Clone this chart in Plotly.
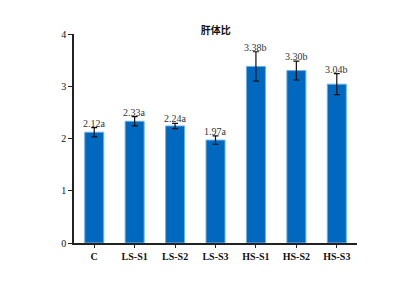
import plotly.graph_objects as go

categories = ["C", "LS-S1", "LS-S2", "LS-S3", "HS-S1", "HS-S2", "HS-S3"]
values = [2.12, 2.33, 2.24, 1.97, 3.38, 3.30, 3.04]
errors = [0.09, 0.09, 0.05, 0.08, 0.28, 0.18, 0.20]
labels = ["2.12a", "2.33a", "2.24a", "1.97a", "3.38b", "3.30b", "3.04b"]
y_ticks = [0, 1, 2, 3, 4]

fig = go.Figure()
fig.add_trace(go.Bar(
    x=categories, y=values, width=0.47,
    marker=dict(color="#0068bf", line=dict(color="#6fb0e8", width=1)),
    error_y=dict(type="data", array=errors, visible=True, color="#111111", thickness=1.2, width=3),
))
for c, v, e, t in zip(categories, values, errors, labels):
    fig.add_annotation(x=c, y=v + e, text=t, showarrow=False, yanchor="bottom", yshift=-3,
                       font=dict(family="Liberation Serif", size=10, color="#333333"))

fig.update_layout(
    width=415, height=292,
    margin=dict(l=74, r=58, t=34, b=49),
    paper_bgcolor="white", plot_bgcolor="white",
    showlegend=False,
    title=dict(text="<b>肝体比</b>", x=0.52, xanchor="center", y=0.895, yanchor="middle",
               font=dict(family="Noto Sans CJK SC", size=10, color="#111111")),
    xaxis=dict(range=[-0.5, 6.5], showline=True, linecolor="#222222", linewidth=1.5,
               ticks="outside", ticklen=3, tickcolor="#222222",
               tickfont=dict(family="Liberation Serif", size=10, color="#111111"),
               tickprefix="<b>", ticksuffix="</b>"),
    yaxis=dict(range=[0, 4], tickvals=y_ticks, showline=True, linecolor="#222222", linewidth=1.5,
               ticks="outside", ticklen=4, tickcolor="#222222", showgrid=False, zeroline=False,
               tickfont=dict(family="Liberation Serif", size=10, color="#111111"),
               tickprefix="<b>", ticksuffix="</b>"),
)
fig.write_html("out.html")
